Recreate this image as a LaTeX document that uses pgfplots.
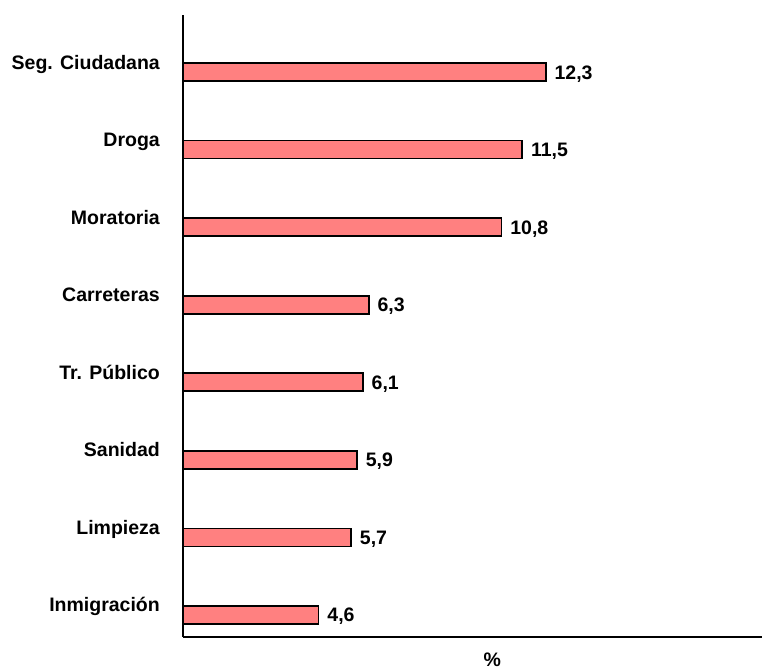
\documentclass[border=0pt]{standalone}
\usepackage{fontspec}
\setmainfont{Liberation Sans}
\usepackage{pgfplots}
\pgfplotsset{compat=1.18}
\definecolor{barfill}{RGB}{255,128,128}
\newcommand\lab{\fontsize{19.5bp}{23bp}\selectfont\bfseries}

\begin{document}
\begin{tikzpicture}
\useasboundingbox (0,0) rectangle (762bp,672bp);
\begin{axis}[
	at={(183bp,35bp)}, anchor=south west,
	scale only axis,
	width=579bp, height=622bp,
	xmin=0, xmax=19.63,
	ymin=-0.284, ymax=7.735,
	axis lines*=left,
	axis line style={line width=2bp},
	xtick=\empty,
	ytick={0,...,7},
	yticklabels={Inmigración,Limpieza,Sanidad,Tr. Público,Carreteras,Moratoria,Droga,Seg. Ciudadana},
	major tick length=0pt,
	yticklabel style={font=\lab, anchor=base east, inner sep=0pt, xshift=-23bp, yshift=3bp},
	xlabel={\%},
	xlabel style={font=\lab, at={(rel axis cs:0.534,0)}, anchor=base, inner sep=0pt, yshift=-29bp},
	xbar, bar width=18bp,
	point meta=explicit symbolic,
	nodes near coords={\pgfplotspointmeta},
	every node near coord/.append style={font=\lab, anchor=base west, inner sep=0pt, xshift=8bp, yshift=-7bp},
	clip=false,
]
\addplot[fill=barfill, draw=black, line width=1.6bp] coordinates {
	(4.6,0) [4,6]
	(5.7,1) [5,7]
	(5.9,2) [5,9]
	(6.1,3) [6,1]
	(6.3,4) [6,3]
	(10.8,5) [10,8]
	(11.5,6) [11,5]
	(12.3,7) [12,3]
};
\end{axis}
\end{tikzpicture}
\end{document}
